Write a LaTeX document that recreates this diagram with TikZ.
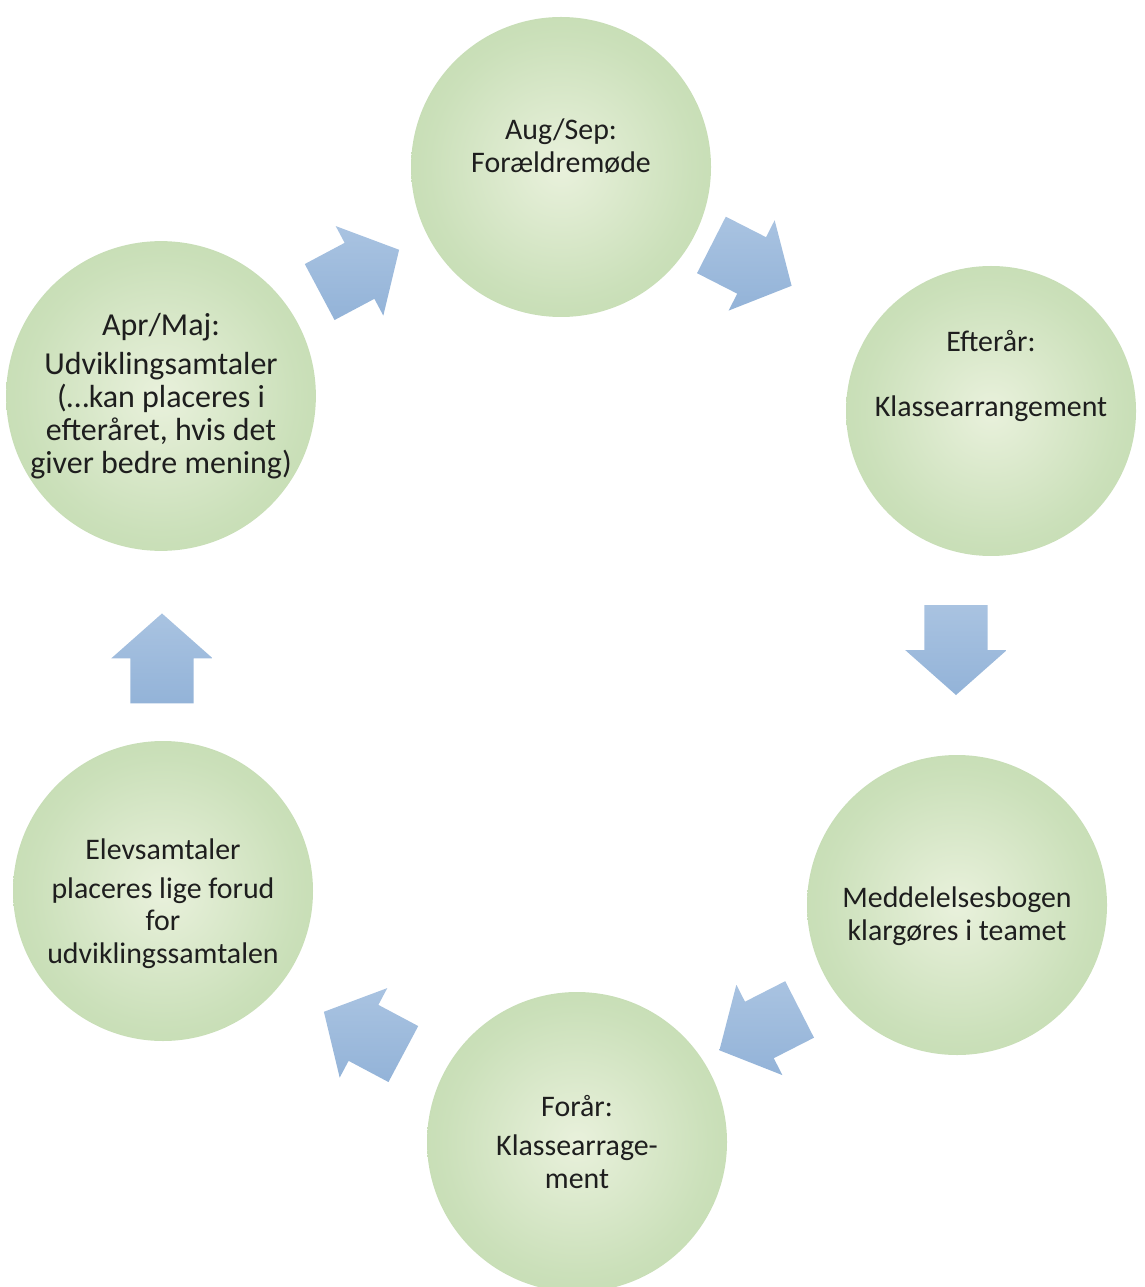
\documentclass[tikz,border=0pt]{standalone}
\usepackage{fontspec}
\setmainfont{Carlito}
\usetikzlibrary{shapes.arrows, calc}
\definecolor{ballin}{HTML}{E9F1DC}
\definecolor{ballmid}{HTML}{CBE0BA}
\definecolor{ballout}{HTML}{B2D19D}
\definecolor{flowlight}{HTML}{A9C3E1}
\definecolor{flowdark}{HTML}{93B3D8}
\definecolor{phasetext}{HTML}{1E1E1E}
\pgfdeclareradialshading{phaseball}{\pgfpoint{0bp}{0bp}}{color(0bp)=(ballin); color(22bp)=(ballmid); color(50bp)=(ballout)}
\tikzset{
  phase/.style = {circle, minimum size=30mm, inner sep=0pt, shading=phaseball, align=center, text=phasetext, font=\fontsize{8.5pt}{9.3pt}\selectfont},
  flow/.style = {single arrow, minimum height=9mm, inner xsep=0pt, inner ysep=3.1mm, single arrow head extend=1.9mm, single arrow tip angle=97, top color=flowlight, bottom color=flowdark},
}

\begin{document}
\begin{tikzpicture}[x=0.1mm, y=-0.1mm]
  \useasboundingbox (0,0) rectangle (1144,1287);

  \node (1) [phase] at (561,167) {Aug/Sep:\\Forældremøde\\ \strut};
  \node (2) [phase, minimum size=29mm] at (991,411) {Efterår:\\ \strut\\Klassearrangement\\ \strut\\ \strut};
  \node (3) [phase] at (957,905) {\rule{0pt}{4.3mm}Meddelelsesbogen\\klargøres i teamet};
  \node (4) [phase] at (577,1142) {Forår:\\[0.6mm]Klassearrage-\\ment};
  \node (5) [phase] at (163,891) {\rule{0pt}{4.6mm}Elevsamtaler\\[0.6mm]placeres lige forud\\for\\udviklingssamtalen};
  \node (6) [phase, minimum size=29mm, font=\fontsize{9.1pt}{9.4pt}\selectfont] at (161,396) {Apr/Maj:\\[0.6mm]Udviklingsamtaler\\(…kan placeres i\\efteråret, hvis det\\giver bedre mening)};

  \node (12) [flow, rotate=28] at ($(6)!0.5!(1) + (-14,-4)$) {};
  \node (23) [flow, rotate=-27] at ($(1)!0.5!(2) + (-37,-30)$) {};
  \node (34) [flow, rotate=-90] at ($(2)!0.5!(3) + (-18,-22)$) {};
  \node (45) [flow, rotate=-153] at ($(3)!0.5!(4) + (5,0)$) {};
  \node (56) [flow, rotate=152] at ($(4)!0.5!(5) + (6,23)$) {};
  \node (61) [flow, rotate=90] at ($(5)!0.5!(6) + (0,29)$) {};

\end{tikzpicture}
\end{document}
